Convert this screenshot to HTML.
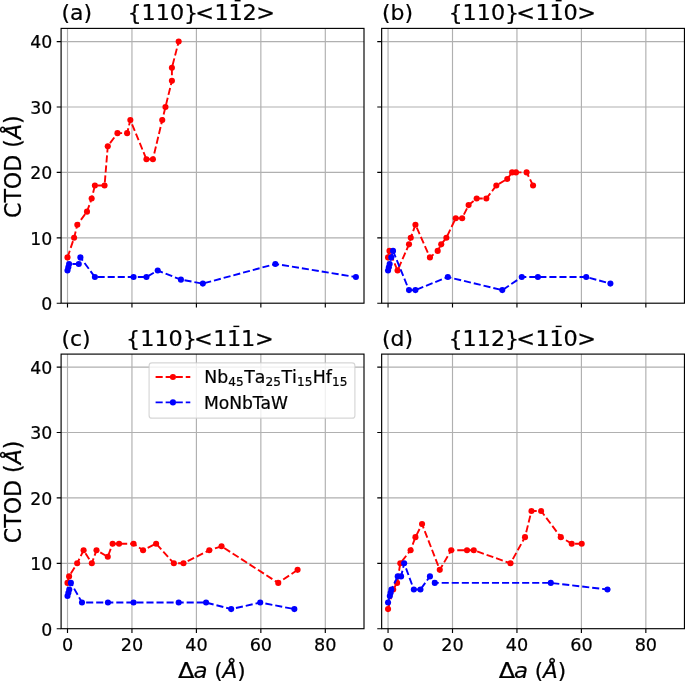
<!DOCTYPE html>
<html lang="en"><head><meta charset="utf-8"><title>CTOD vs crack extension</title>
<style>html,body{margin:0;padding:0;background:#fff}body{width:685px;height:682px;overflow:hidden}svg{display:block}text{font-family:"DejaVu Sans","Liberation Sans",sans-serif;fill:#000;stroke:#000;stroke-width:0.22px}.it{font-style:oblique}</style></head><body>
<svg width="685" height="682" viewBox="0 0 685 682">
<rect width="685" height="682" fill="#fff"/>
<g id="ax-a">
<path d="M67.5 28.4V303.2M131.95 28.4V303.2M196.4 28.4V303.2M260.85 28.4V303.2M325.3 28.4V303.2M61.1 237.8H364M61.1 172.4H364M61.1 107H364M61.1 41.6H364" stroke="#b0b0b0" stroke-width="1.15" fill="none"/>
<path d="M67.5 303.2v4.4M131.95 303.2v4.4M196.4 303.2v4.4M260.85 303.2v4.4M325.3 303.2v4.4M61.1 303.2h-4.4M61.1 237.8h-4.4M61.1 172.4h-4.4M61.1 107h-4.4M61.1 41.6h-4.4" stroke="#000" stroke-width="1.15" fill="none"/>
<clipPath id="clip-a"><rect x="61.1" y="28.4" width="302.9" height="274.8"/></clipPath>
<g clip-path="url(#clip-a)">
<polyline points="67.5,257.42 74.11,237.8 77.33,224.72 87,211.64 91.67,198.56 94.89,185.48 104.56,185.48 107.78,146.24 117.45,133.16 127.12,133.16 130.34,120.08 146.45,159.32 152.9,159.32 162.24,120.08 165.46,107 171.91,80.84 171.91,67.76 178.68,41.6" fill="none" stroke="#ff0000" stroke-width="1.9" stroke-dasharray="7.1 2.95" stroke-linejoin="round"/>
<g fill="#ff0000"><circle cx="67.5" cy="257.42" r="3.05"/><circle cx="74.11" cy="237.8" r="3.05"/><circle cx="77.33" cy="224.72" r="3.05"/><circle cx="87" cy="211.64" r="3.05"/><circle cx="91.67" cy="198.56" r="3.05"/><circle cx="94.89" cy="185.48" r="3.05"/><circle cx="104.56" cy="185.48" r="3.05"/><circle cx="107.78" cy="146.24" r="3.05"/><circle cx="117.45" cy="133.16" r="3.05"/><circle cx="127.12" cy="133.16" r="3.05"/><circle cx="130.34" cy="120.08" r="3.05"/><circle cx="146.45" cy="159.32" r="3.05"/><circle cx="152.9" cy="159.32" r="3.05"/><circle cx="162.24" cy="120.08" r="3.05"/><circle cx="165.46" cy="107" r="3.05"/><circle cx="171.91" cy="80.84" r="3.05"/><circle cx="171.91" cy="67.76" r="3.05"/><circle cx="178.68" cy="41.6" r="3.05"/></g>
<polyline points="67.5,270.5 68.31,267.23 69.11,263.96 78.78,263.96 80.39,257.42 94.89,277.04 133.56,277.04 146.45,277.04 157.73,270.5 180.93,279.66 202.84,283.58 275.35,263.96 355.91,277.04" fill="none" stroke="#0000ff" stroke-width="1.9" stroke-dasharray="7.1 2.95" stroke-linejoin="round"/>
<g fill="#0000ff"><circle cx="67.5" cy="270.5" r="3.05"/><circle cx="68.31" cy="267.23" r="3.05"/><circle cx="69.11" cy="263.96" r="3.05"/><circle cx="78.78" cy="263.96" r="3.05"/><circle cx="80.39" cy="257.42" r="3.05"/><circle cx="94.89" cy="277.04" r="3.05"/><circle cx="133.56" cy="277.04" r="3.05"/><circle cx="146.45" cy="277.04" r="3.05"/><circle cx="157.73" cy="270.5" r="3.05"/><circle cx="180.93" cy="279.66" r="3.05"/><circle cx="202.84" cy="283.58" r="3.05"/><circle cx="275.35" cy="263.96" r="3.05"/><circle cx="355.91" cy="277.04" r="3.05"/></g>
</g>
<rect x="61.1" y="28.4" width="302.9" height="274.8" fill="none" stroke="#000" stroke-width="1.15"/>
<text transform="translate(52.3 310) scale(1 1.05)" font-size="17.3" text-anchor="end">0</text>
<text transform="translate(52.3 244.6) scale(1 1.05)" font-size="17.3" text-anchor="end">10</text>
<text transform="translate(52.3 179.2) scale(1 1.05)" font-size="17.3" text-anchor="end">20</text>
<text transform="translate(52.3 113.8) scale(1 1.05)" font-size="17.3" text-anchor="end">30</text>
<text transform="translate(52.3 48.4) scale(1 1.05)" font-size="17.3" text-anchor="end">40</text>
<text transform="translate(21.2 166.7) rotate(-90) scale(1 1.04)" font-size="22.1" text-anchor="middle">CTOD (<tspan class="it">Å</tspan>)</text>
<text transform="translate(61.4 20.2) scale(1.03 1)" font-size="21.3">(a)</text>
<text transform="translate(127.4 20.2) scale(1.046 1)" font-size="21.3">{110}</text>
<text transform="translate(195.3 20.2) scale(1.05 1)" font-size="21.3">&lt;</text>
<text transform="translate(214.5 20.2) scale(1.05 1)" font-size="21.3">1</text>
<text transform="translate(228.4 20.2) scale(1.05 1)" font-size="21.3">1</text>
<text transform="translate(242.4 20.2) scale(1.05 1)" font-size="21.3">2</text>
<text transform="translate(256.2 20.2) scale(1.05 1)" font-size="21.3">&gt;</text>
<rect x="234.7" y="0" width="5.9" height="1.4" fill="#000"/>
</g>
<g id="ax-b">
<path d="M388.05 28.4V303.2M452.5 28.4V303.2M516.95 28.4V303.2M581.4 28.4V303.2M645.85 28.4V303.2M381.65 237.8H684.45M381.65 172.4H684.45M381.65 107H684.45M381.65 41.6H684.45" stroke="#b0b0b0" stroke-width="1.15" fill="none"/>
<path d="M388.05 303.2v4.4M452.5 303.2v4.4M516.95 303.2v4.4M581.4 303.2v4.4M645.85 303.2v4.4M381.65 303.2h-4.4M381.65 237.8h-4.4M381.65 172.4h-4.4M381.65 107h-4.4M381.65 41.6h-4.4" stroke="#000" stroke-width="1.15" fill="none"/>
<clipPath id="clip-b"><rect x="381.65" y="28.4" width="302.8" height="274.8"/></clipPath>
<g clip-path="url(#clip-b)">
<polyline points="388.05,257.42 389.5,250.88 397.56,270.5 409,244.34 410.77,237.8 415.44,224.72 429.94,257.42 437.68,250.88 441.22,244.34 446.38,237.8 455.72,218.18 462.17,218.18 468.61,205.1 476.67,198.56 486.34,198.56 496.33,185.48 507.28,178.94 512.12,172.4 515.98,172.4 526.62,172.4 533.06,185.48" fill="none" stroke="#ff0000" stroke-width="1.9" stroke-dasharray="7.1 2.95" stroke-linejoin="round"/>
<g fill="#ff0000"><circle cx="388.05" cy="257.42" r="3.05"/><circle cx="389.5" cy="250.88" r="3.05"/><circle cx="397.56" cy="270.5" r="3.05"/><circle cx="409" cy="244.34" r="3.05"/><circle cx="410.77" cy="237.8" r="3.05"/><circle cx="415.44" cy="224.72" r="3.05"/><circle cx="429.94" cy="257.42" r="3.05"/><circle cx="437.68" cy="250.88" r="3.05"/><circle cx="441.22" cy="244.34" r="3.05"/><circle cx="446.38" cy="237.8" r="3.05"/><circle cx="455.72" cy="218.18" r="3.05"/><circle cx="462.17" cy="218.18" r="3.05"/><circle cx="468.61" cy="205.1" r="3.05"/><circle cx="476.67" cy="198.56" r="3.05"/><circle cx="486.34" cy="198.56" r="3.05"/><circle cx="496.33" cy="185.48" r="3.05"/><circle cx="507.28" cy="178.94" r="3.05"/><circle cx="512.12" cy="172.4" r="3.05"/><circle cx="515.98" cy="172.4" r="3.05"/><circle cx="526.62" cy="172.4" r="3.05"/><circle cx="533.06" cy="185.48" r="3.05"/></g>
<polyline points="388.05,270.5 388.86,267.23 389.66,263.96 391.27,257.42 393.04,250.88 409,290.12 415.44,290.12 447.83,277.04 502.29,290.12 521.78,277.04 537.9,277.04 586.23,277.04 610.4,283.58" fill="none" stroke="#0000ff" stroke-width="1.9" stroke-dasharray="7.1 2.95" stroke-linejoin="round"/>
<g fill="#0000ff"><circle cx="388.05" cy="270.5" r="3.05"/><circle cx="388.86" cy="267.23" r="3.05"/><circle cx="389.66" cy="263.96" r="3.05"/><circle cx="391.27" cy="257.42" r="3.05"/><circle cx="393.04" cy="250.88" r="3.05"/><circle cx="409" cy="290.12" r="3.05"/><circle cx="415.44" cy="290.12" r="3.05"/><circle cx="447.83" cy="277.04" r="3.05"/><circle cx="502.29" cy="290.12" r="3.05"/><circle cx="521.78" cy="277.04" r="3.05"/><circle cx="537.9" cy="277.04" r="3.05"/><circle cx="586.23" cy="277.04" r="3.05"/><circle cx="610.4" cy="283.58" r="3.05"/></g>
</g>
<rect x="381.65" y="28.4" width="302.8" height="274.8" fill="none" stroke="#000" stroke-width="1.15"/>
<text transform="translate(381.95 20.2) scale(1.03 1)" font-size="21.3">(b)</text>
<text transform="translate(448.41 20.2) scale(1.046 1)" font-size="21.3">{110}</text>
<text transform="translate(516.31 20.2) scale(1.05 1)" font-size="21.3">&lt;</text>
<text transform="translate(535.51 20.2) scale(1.05 1)" font-size="21.3">1</text>
<text transform="translate(549.41 20.2) scale(1.05 1)" font-size="21.3">1</text>
<text transform="translate(563.41 20.2) scale(1.05 1)" font-size="21.3">0</text>
<text transform="translate(577.21 20.2) scale(1.05 1)" font-size="21.3">&gt;</text>
<rect x="555.71" y="0" width="5.9" height="1.4" fill="#000"/>
</g>
<g id="ax-c">
<path d="M67.5 354.1V628.7M131.95 354.1V628.7M196.4 354.1V628.7M260.85 354.1V628.7M325.3 354.1V628.7M61.1 563.3H364M61.1 497.9H364M61.1 432.5H364M61.1 367.1H364" stroke="#b0b0b0" stroke-width="1.15" fill="none"/>
<path d="M67.5 628.7v4.4M131.95 628.7v4.4M196.4 628.7v4.4M260.85 628.7v4.4M325.3 628.7v4.4M61.1 628.7h-4.4M61.1 563.3h-4.4M61.1 497.9h-4.4M61.1 432.5h-4.4M61.1 367.1h-4.4" stroke="#000" stroke-width="1.15" fill="none"/>
<clipPath id="clip-c"><rect x="61.1" y="354.1" width="302.9" height="274.6"/></clipPath>
<g clip-path="url(#clip-c)">
<polyline points="67.5,582.92 69.11,576.38 77.17,563.3 83.61,550.22 91.83,563.3 96.5,550.22 107.78,556.76 112.62,543.68 119.06,543.68 133.56,543.68 143.07,550.22 156.12,543.68 173.84,563.3 183.51,563.3 209.29,550.22 221.54,546.3 278.25,582.92 297.59,569.84" fill="none" stroke="#ff0000" stroke-width="1.9" stroke-dasharray="7.1 2.95" stroke-linejoin="round"/>
<g fill="#ff0000"><circle cx="67.5" cy="582.92" r="3.05"/><circle cx="69.11" cy="576.38" r="3.05"/><circle cx="77.17" cy="563.3" r="3.05"/><circle cx="83.61" cy="550.22" r="3.05"/><circle cx="91.83" cy="563.3" r="3.05"/><circle cx="96.5" cy="550.22" r="3.05"/><circle cx="107.78" cy="556.76" r="3.05"/><circle cx="112.62" cy="543.68" r="3.05"/><circle cx="119.06" cy="543.68" r="3.05"/><circle cx="133.56" cy="543.68" r="3.05"/><circle cx="143.07" cy="550.22" r="3.05"/><circle cx="156.12" cy="543.68" r="3.05"/><circle cx="173.84" cy="563.3" r="3.05"/><circle cx="183.51" cy="563.3" r="3.05"/><circle cx="209.29" cy="550.22" r="3.05"/><circle cx="221.54" cy="546.3" r="3.05"/><circle cx="278.25" cy="582.92" r="3.05"/><circle cx="297.59" cy="569.84" r="3.05"/></g>
<polyline points="67.5,596 68.4,592.73 69.27,589.46 70.88,582.92 82,602.54 107.94,602.54 133.56,602.54 178.68,602.54 206.07,602.54 231.2,609.08 260.21,602.54 294.36,609.08" fill="none" stroke="#0000ff" stroke-width="1.9" stroke-dasharray="7.1 2.95" stroke-linejoin="round"/>
<g fill="#0000ff"><circle cx="67.5" cy="596" r="3.05"/><circle cx="68.4" cy="592.73" r="3.05"/><circle cx="69.27" cy="589.46" r="3.05"/><circle cx="70.88" cy="582.92" r="3.05"/><circle cx="82" cy="602.54" r="3.05"/><circle cx="107.94" cy="602.54" r="3.05"/><circle cx="133.56" cy="602.54" r="3.05"/><circle cx="178.68" cy="602.54" r="3.05"/><circle cx="206.07" cy="602.54" r="3.05"/><circle cx="231.2" cy="609.08" r="3.05"/><circle cx="260.21" cy="602.54" r="3.05"/><circle cx="294.36" cy="609.08" r="3.05"/></g>
</g>
<rect x="149.1" y="362.9" width="205.8" height="55.3" rx="2.8" ry="2.8" fill="#fff" fill-opacity="0.8" stroke="#ccc" stroke-opacity="0.8" stroke-width="1.15"/>
<path d="M155.6 376.95H190.3" stroke="#ff0000" stroke-width="1.9" stroke-dasharray="7.1 2.95" fill="none"/>
<circle cx="172.95" cy="376.95" r="3.05" fill="#ff0000"/>
<path d="M155.6 402.4H190.3" stroke="#0000ff" stroke-width="1.9" stroke-dasharray="7.1 2.95" fill="none"/>
<circle cx="172.95" cy="402.4" r="3.05" fill="#0000ff"/>
<text y="382.8" font-size="17.3"><tspan x="204.2">N</tspan><tspan x="217.14">b</tspan><tspan x="244.17">T</tspan><tspan x="254.74">a</tspan><tspan x="281.39">T</tspan><tspan x="291.96">i</tspan><tspan x="312.81">H</tspan><tspan x="325.82">f</tspan></text>
<text y="385.64" font-size="12.11"><tspan x="228.29">4</tspan><tspan x="235.99">5</tspan><tspan x="265.51">2</tspan><tspan x="273.21">5</tspan><tspan x="296.93">1</tspan><tspan x="304.63">5</tspan><tspan x="332.07">1</tspan><tspan x="339.78">5</tspan></text>
<text x="203.9" y="409.1" font-size="17.15">MoNbTaW</text>
<rect x="61.1" y="354.1" width="302.9" height="274.6" fill="none" stroke="#000" stroke-width="1.15"/>
<text transform="translate(67.5 650.6) scale(1.02 1.05)" font-size="17.3" text-anchor="middle">0</text>
<text transform="translate(131.95 650.6) scale(1.02 1.05)" font-size="17.3" text-anchor="middle">20</text>
<text transform="translate(196.4 650.6) scale(1.02 1.05)" font-size="17.3" text-anchor="middle">40</text>
<text transform="translate(260.85 650.6) scale(1.02 1.05)" font-size="17.3" text-anchor="middle">60</text>
<text transform="translate(325.3 650.6) scale(1.02 1.05)" font-size="17.3" text-anchor="middle">80</text>
<text transform="translate(178.1 678.4) scale(1.118 1)" font-size="21.5">Δ</text>
<text transform="translate(193.5 678.4) scale(1.065 1)" font-size="21.5" class="it">a</text>
<text x="214.17" y="678.4" font-size="21.5">(<tspan class="it">Å</tspan>)</text>
<text transform="translate(52.3 635.5) scale(1 1.05)" font-size="17.3" text-anchor="end">0</text>
<text transform="translate(52.3 570.1) scale(1 1.05)" font-size="17.3" text-anchor="end">10</text>
<text transform="translate(52.3 504.7) scale(1 1.05)" font-size="17.3" text-anchor="end">20</text>
<text transform="translate(52.3 439.3) scale(1 1.05)" font-size="17.3" text-anchor="end">30</text>
<text transform="translate(52.3 373.9) scale(1 1.05)" font-size="17.3" text-anchor="end">40</text>
<text transform="translate(21.2 491.9) rotate(-90) scale(1 1.04)" font-size="22.1" text-anchor="middle">CTOD (<tspan class="it">Å</tspan>)</text>
<text transform="translate(61.4 345.9) scale(1.03 1)" font-size="21.3">(c)</text>
<text transform="translate(126.1 345.9) scale(1.046 1)" font-size="21.3">{110}</text>
<text transform="translate(194 345.9) scale(1.05 1)" font-size="21.3">&lt;</text>
<text transform="translate(213.2 345.9) scale(1.05 1)" font-size="21.3">1</text>
<text transform="translate(227.1 345.9) scale(1.05 1)" font-size="21.3">1</text>
<text transform="translate(241.1 345.9) scale(1.05 1)" font-size="21.3">1</text>
<text transform="translate(254.9 345.9) scale(1.05 1)" font-size="21.3">&gt;</text>
<rect x="233.4" y="325.7" width="5.9" height="1.4" fill="#000"/>
</g>
<g id="ax-d">
<path d="M388.05 354.1V628.7M452.5 354.1V628.7M516.95 354.1V628.7M581.4 354.1V628.7M645.85 354.1V628.7M381.65 563.3H684.45M381.65 497.9H684.45M381.65 432.5H684.45M381.65 367.1H684.45" stroke="#b0b0b0" stroke-width="1.15" fill="none"/>
<path d="M388.05 628.7v4.4M452.5 628.7v4.4M516.95 628.7v4.4M581.4 628.7v4.4M645.85 628.7v4.4M381.65 628.7h-4.4M381.65 563.3h-4.4M381.65 497.9h-4.4M381.65 432.5h-4.4M381.65 367.1h-4.4" stroke="#000" stroke-width="1.15" fill="none"/>
<clipPath id="clip-d"><rect x="381.65" y="354.1" width="302.8" height="274.6"/></clipPath>
<g clip-path="url(#clip-d)">
<polyline points="388.05,609.08 393.21,589.46 397.07,582.92 400.3,563.3 410.61,550.22 415.44,537.14 422.05,524.06 439.77,569.84 451.21,550.22 467,550.22 473.77,550.22 510.5,563.3 525.01,537.14 531.45,510.98 541.12,510.98 560.78,537.14 571.73,543.68 581.72,543.68" fill="none" stroke="#ff0000" stroke-width="1.9" stroke-dasharray="7.1 2.95" stroke-linejoin="round"/>
<g fill="#ff0000"><circle cx="388.05" cy="609.08" r="3.05"/><circle cx="393.21" cy="589.46" r="3.05"/><circle cx="397.07" cy="582.92" r="3.05"/><circle cx="400.3" cy="563.3" r="3.05"/><circle cx="410.61" cy="550.22" r="3.05"/><circle cx="415.44" cy="537.14" r="3.05"/><circle cx="422.05" cy="524.06" r="3.05"/><circle cx="439.77" cy="569.84" r="3.05"/><circle cx="451.21" cy="550.22" r="3.05"/><circle cx="467" cy="550.22" r="3.05"/><circle cx="473.77" cy="550.22" r="3.05"/><circle cx="510.5" cy="563.3" r="3.05"/><circle cx="525.01" cy="537.14" r="3.05"/><circle cx="531.45" cy="510.98" r="3.05"/><circle cx="541.12" cy="510.98" r="3.05"/><circle cx="560.78" cy="537.14" r="3.05"/><circle cx="571.73" cy="543.68" r="3.05"/><circle cx="581.72" cy="543.68" r="3.05"/></g>
<polyline points="388.05,602.54 389.82,596 390.63,592.73 391.43,589.46 397.72,576.38 401.1,576.38 404.16,563.3 413.83,589.46 420.44,589.46 429.94,576.38 434.78,582.92 550.79,582.92 607.5,589.46" fill="none" stroke="#0000ff" stroke-width="1.9" stroke-dasharray="7.1 2.95" stroke-linejoin="round"/>
<g fill="#0000ff"><circle cx="388.05" cy="602.54" r="3.05"/><circle cx="389.82" cy="596" r="3.05"/><circle cx="390.63" cy="592.73" r="3.05"/><circle cx="391.43" cy="589.46" r="3.05"/><circle cx="397.72" cy="576.38" r="3.05"/><circle cx="401.1" cy="576.38" r="3.05"/><circle cx="404.16" cy="563.3" r="3.05"/><circle cx="413.83" cy="589.46" r="3.05"/><circle cx="420.44" cy="589.46" r="3.05"/><circle cx="429.94" cy="576.38" r="3.05"/><circle cx="434.78" cy="582.92" r="3.05"/><circle cx="550.79" cy="582.92" r="3.05"/><circle cx="607.5" cy="589.46" r="3.05"/></g>
</g>
<rect x="381.65" y="354.1" width="302.8" height="274.6" fill="none" stroke="#000" stroke-width="1.15"/>
<text transform="translate(388.05 650.6) scale(1.02 1.05)" font-size="17.3" text-anchor="middle">0</text>
<text transform="translate(452.5 650.6) scale(1.02 1.05)" font-size="17.3" text-anchor="middle">20</text>
<text transform="translate(516.95 650.6) scale(1.02 1.05)" font-size="17.3" text-anchor="middle">40</text>
<text transform="translate(581.4 650.6) scale(1.02 1.05)" font-size="17.3" text-anchor="middle">60</text>
<text transform="translate(645.85 650.6) scale(1.02 1.05)" font-size="17.3" text-anchor="middle">80</text>
<text transform="translate(498.65 678.4) scale(1.118 1)" font-size="21.5">Δ</text>
<text transform="translate(514.05 678.4) scale(1.065 1)" font-size="21.5" class="it">a</text>
<text x="534.72" y="678.4" font-size="21.5">(<tspan class="it">Å</tspan>)</text>
<text transform="translate(381.95 345.9) scale(1.03 1)" font-size="21.3">(d)</text>
<text transform="translate(448.41 345.9) scale(1.046 1)" font-size="21.3">{112}</text>
<text transform="translate(516.31 345.9) scale(1.05 1)" font-size="21.3">&lt;</text>
<text transform="translate(535.51 345.9) scale(1.05 1)" font-size="21.3">1</text>
<text transform="translate(549.41 345.9) scale(1.05 1)" font-size="21.3">1</text>
<text transform="translate(563.41 345.9) scale(1.05 1)" font-size="21.3">0</text>
<text transform="translate(577.21 345.9) scale(1.05 1)" font-size="21.3">&gt;</text>
<rect x="555.71" y="325.7" width="5.9" height="1.4" fill="#000"/>
</g>
</svg></body></html>
